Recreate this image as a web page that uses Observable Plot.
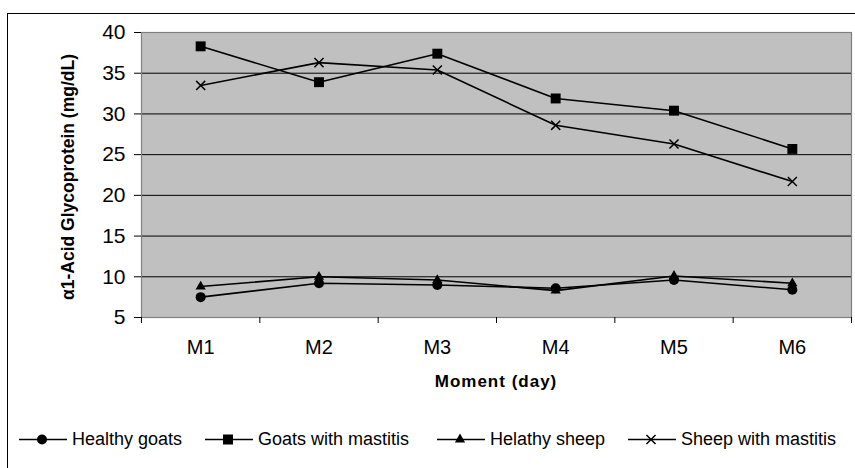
<!DOCTYPE html>
<html>
<head>
<meta charset="utf-8">
<script src="https://cdn.jsdelivr.net/npm/d3@7"></script>
<script src="https://cdn.jsdelivr.net/npm/@observablehq/plot@0.6"></script>
<style>
  html, body { margin: 0; padding: 0; background: #fff; }
  #wrap { position: relative; width: 855px; height: 468px; overflow: hidden; font-family: "Liberation Sans", Arial, sans-serif; }
  #box { position: absolute; left: 7px; top: 13px; width: 900px; height: 500px; border: 1px solid #000; box-sizing: border-box; }
  #chart { position: absolute; left: 0; top: 0; }
  #ytitle { position: absolute; left: 68px; top: 177px; transform: translate(-50%, -50%) rotate(-90deg); white-space: nowrap; font-weight: bold; font-size: 17.5px; color: #000; }
  #xtitle { position: absolute; left: 496px; top: 382px; transform: translate(-50%, -50%); white-space: nowrap; font-weight: bold; font-size: 17px; letter-spacing: 1px; color: #000; }
  .leg { position: absolute; top: 439px; transform: translateY(-50%); display: flex; align-items: center; font-size: 18px; white-space: nowrap; color: #000; }
  .leg svg { display: block; margin-right: 5px; }
</style>
</head>
<body>
<div id="wrap">
  <div id="box"></div>
  <div id="chart"></div>
  <div id="ytitle">α1-Acid Glycoprotein (mg/dL)</div>
  <div id="xtitle">Moment (day)</div>
  <div id="legend"></div>
</div>
<script>
const categories = ["M1", "M2", "M3", "M4", "M5", "M6"];
const healthyGoats = [7.5, 9.2, 9.0, 8.6, 9.6, 8.4];
const goatsMastitis = [38.3, 33.9, 37.4, 31.9, 30.4, 25.7];
const healthySheep = [8.8, 10.0, 9.6, 8.3, 10.1, 9.2];
const sheepMastitis = [33.5, 36.3, 35.4, 28.6, 26.3, 21.7];
const seriesNames = ["Healthy goats", "Goats with mastitis", "Helathy sheep", "Sheep with mastitis"];
const seriesValues = [healthyGoats, goatsMastitis, healthySheep, sheepMastitis];
const yTicks = [5, 10, 15, 20, 25, 30, 35, 40];

const symbols = ["circle", "square", "triangle", "times"];
const radii = [5, 5.6, 3.8, 4.2];

const data = [];
seriesNames.forEach((name, s) => {
  seriesValues[s].forEach((v, i) => data.push({series: name, s, i, moment: categories[i], value: v}));
});

const boundaries = d3.range(categories.length + 1).map(k => k - 0.5);
const gridLines = yTicks.slice(1, -1);

const marks = [
  Plot.frame({fill: "#c0c0c0", stroke: null}),
  Plot.ruleY(gridLines, {stroke: "#000", strokeWidth: 1}),
  Plot.frame({stroke: "#808080", strokeWidth: 1.2}),
  Plot.axisY({ticks: yTicks, tickSize: 7, tickPadding: 9, label: null, fontSize: 21, tickFormat: d => String(d)}),
  Plot.axisX({ticks: boundaries, tickSize: 6, tickFormat: () => "", label: null}),
  Plot.axisX({ticks: d3.range(categories.length), tickSize: 0, tickPadding: 22, label: null, fontSize: 20, tickFormat: i => categories[i]})
];

seriesNames.forEach((name, s) => {
  const rows = data.filter(d => d.s === s);
  marks.push(Plot.line(rows, {x: "i", y: "value", stroke: "#000", strokeWidth: 1.6}));
});
seriesNames.forEach((name, s) => {
  const rows = data.filter(d => d.s === s);
  const isStroke = symbols[s] === "times";
  marks.push(Plot.dot(rows, {
    x: "i", y: "value", symbol: () => symbols[s], r: radii[s],
    fill: isStroke ? "none" : "#000", stroke: "#000", strokeWidth: isStroke ? 1.5 : 0
  }));
});

const chart = Plot.plot({
  width: 855,
  height: 360,
  marginLeft: 141,
  marginRight: 4,
  marginTop: 32,
  marginBottom: 43,
  style: {fontFamily: "'Liberation Sans', Arial, sans-serif", fontSize: "18px", background: "transparent", color: "#000", overflow: "visible"},
  x: {domain: [-0.5, categories.length - 0.5]},
  y: {domain: [5, 40]},
  symbol: {type: "identity"},
  marks
});
document.getElementById("chart").appendChild(chart);

// Legend
const legendX = [19, 205, 437, 628];
const legend = document.getElementById("legend");
const symGen = {circle: d3.symbolCircle, square: d3.symbolSquare, triangle: d3.symbolTriangle, times: d3.symbolTimes};
seriesNames.forEach((name, s) => {
  const item = document.createElement("div");
  item.className = "leg";
  item.style.left = legendX[s] + "px";
  const ns = "http://www.w3.org/2000/svg";
  const svg = document.createElementNS(ns, "svg");
  svg.setAttribute("width", 48);
  svg.setAttribute("height", 16);
  const line = document.createElementNS(ns, "line");
  line.setAttribute("x1", 0); line.setAttribute("x2", 48);
  line.setAttribute("y1", 8); line.setAttribute("y2", 8);
  line.setAttribute("stroke", "#000"); line.setAttribute("stroke-width", 1.6);
  svg.appendChild(line);
  const path = document.createElementNS(ns, "path");
  path.setAttribute("d", d3.symbol(symGen[symbols[s]], Math.PI * radii[s] * radii[s])());
  path.setAttribute("transform", "translate(23,8)");
  if (symbols[s] === "times") { path.setAttribute("fill", "none"); path.setAttribute("stroke", "#000"); path.setAttribute("stroke-width", 1.5); }
  else path.setAttribute("fill", "#000");
  svg.appendChild(path);
  item.appendChild(svg);
  const t = document.createElement("span");
  t.textContent = name;
  item.appendChild(t);
  legend.appendChild(item);
});
</script>
</body>
</html>
